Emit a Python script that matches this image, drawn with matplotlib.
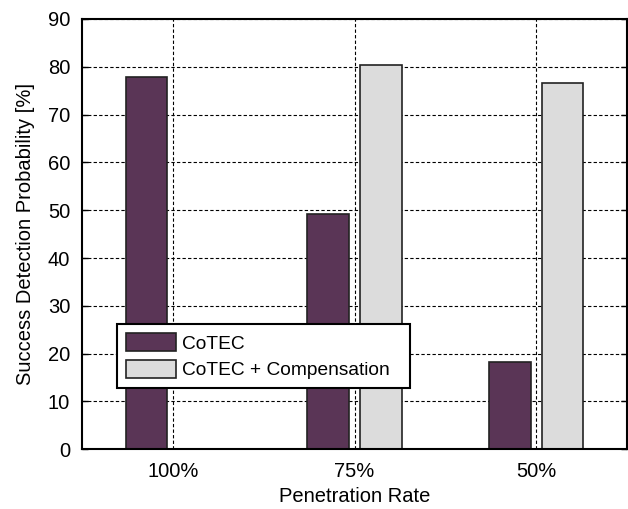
import numpy as np
import matplotlib
matplotlib.use("Agg")
import matplotlib.pyplot as plt

# data
rates = ['100%', '75%', '50%']
cotec = [77.9, 49.2, 18.3]
cotec_comp = [0.0, 80.3, 76.6]
series_names = ['CoTEC', 'CoTEC + Compensation']

plt.rcParams['font.family'] = ['Liberation Sans', 'DejaVu Sans']

fig = plt.figure(figsize=(6.28, 5.09), dpi=100)
ax = fig.add_axes([82/628, (509-449.3)/509, 545/628, 430.3/509])

x = np.arange(len(rates))
w = 0.23
ax.bar(x - 0.145, cotec, w, color='#5a3556', edgecolor='#222222',
       linewidth=1.2, label=series_names[0], zorder=2)
ax.bar(x + 0.145, cotec_comp, w, color='#dcdcdc', edgecolor='#222222',
       linewidth=1.2, label=series_names[1], zorder=2)

ax.set_xlim(-0.5, 2.5)
ax.set_ylim(0, 90)
ax.set_yticks(np.arange(0, 91, 10))
ax.set_xticks(x)
ax.set_xticklabels(rates)

ax.grid(True, color='black', linestyle=(0, (3, 2)), linewidth=0.8)
ax.set_axisbelow(True)

ax.tick_params(axis='x', length=0, pad=9.5, labelsize=14.5)
ax.tick_params(axis='y', direction='in', length=4, width=1, pad=8.5,
               labelsize=14.5, right=True)
for s in ax.spines.values():
    s.set_linewidth(1.5)

ax.set_xlabel('Penetration Rate', fontsize=14.5, labelpad=4)
ax.set_ylabel('Success Detection Probability [%]', fontsize=14.5, labelpad=9)

leg = ax.legend(loc='lower left', bbox_to_anchor=(0.0642, 0.1425, 0.5376, 0.1418),
                mode='expand', borderaxespad=0, fontsize=13.8,
                handlelength=2.65, handleheight=1.1, handletextpad=0.3,
                labelspacing=0.36, borderpad=0.45, fancybox=False,
                framealpha=1, edgecolor='black')
leg.get_frame().set_linewidth(1.5)
leg.set_zorder(5)

fig.savefig('out.png', dpi=100)
